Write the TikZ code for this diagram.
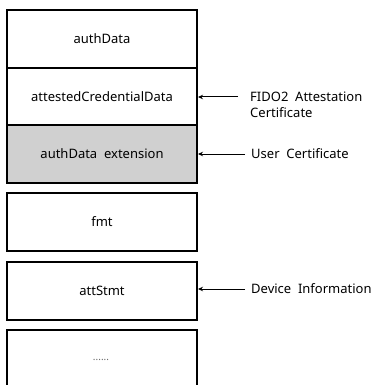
\documentclass[tikz,border=0pt]{standalone}
\usepackage{fontspec}
\setmainfont{Noto Sans}
\usetikzlibrary{arrows.meta}
\begin{document}
\begin{tikzpicture}[x=1pt,y=-1pt,
  field/.style={draw=black, line width=2pt, minimum width=190pt, inner sep=0pt, anchor=north west, font=\fontsize{13}{15}\selectfont},
  lbl/.style={anchor=west, font=\fontsize{13}{16}\selectfont, align=left, inner sep=0pt},
  arr/.style={-{Stealth[length=5pt,width=4.5pt]}, line width=1pt}]
\useasboundingbox (0,0) rectangle (378,385);
\clip (0,0) rectangle (378,385);
\node[field, minimum height=58pt, fill={rgb,255:red,208;green,208;blue,208}] (ext) at (6,124) {authData\ \ extension};
\node[field, minimum height=58pt] (ad) at (6,9) {authData};
\node[field, minimum height=57pt] (acd) at (6,67) {attestedCredentialData};
\node[field, minimum height=58pt] (fmt) at (6,192) {fmt};
\node[field, minimum height=58pt] (att) at (6,261) {attStmt};
\node[field, minimum height=70pt] (dots) at (6,329) {};
\node[font=\fontsize{10}{12}\selectfont, text=black!60] (dotstxt) at (101,360) {......};
\node[lbl] (fido) at (250,105) {FIDO2\ \ Attestation\\Certificate};
\node[lbl] (user) at (251,154) {User\ \ Certificate};
\node[lbl] (dev) at (251,289) {Device\ \ Information};
\coordinate (fa) at (238,97);
\coordinate (ua) at (245,154);
\coordinate (da) at (245,289);
\draw[arr] (fa) -- (acd.east |- fa);
\draw[arr] (ua) -- (ext.east |- ua);
\draw[arr] (da) -- (att.east |- da);
\end{tikzpicture}
\end{document}
